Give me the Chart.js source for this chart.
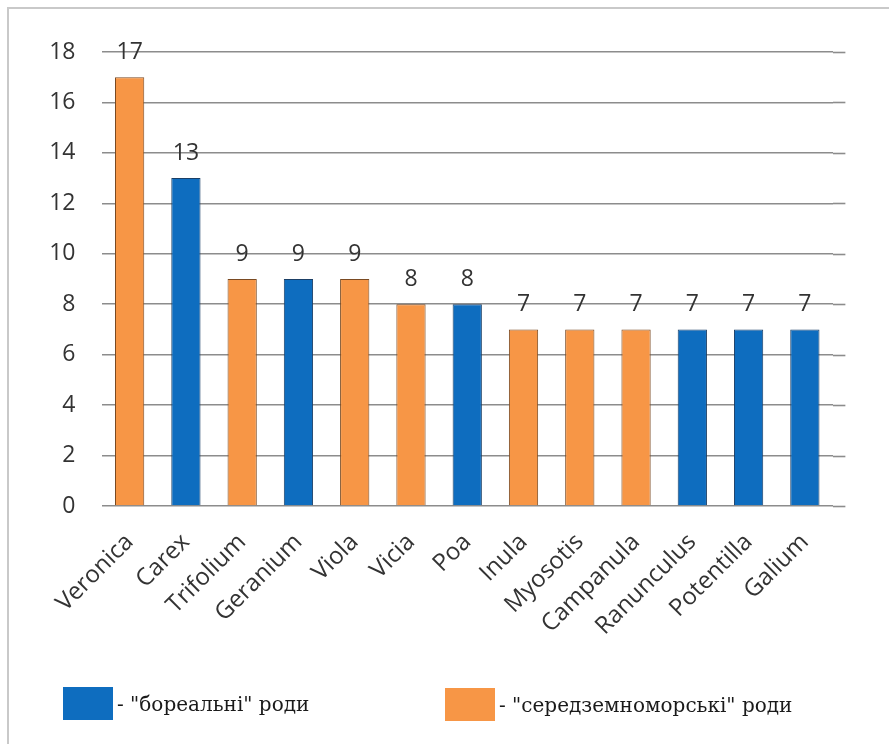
<!DOCTYPE html>
<html>
<head>
<meta charset="utf-8">
<script src="https://cdn.jsdelivr.net/npm/chart.js@4/dist/chart.umd.min.js"></script>
<style>
  html, body { margin: 0; padding: 0; background: #fff; }
  #wrap { position: relative; width: 889px; height: 744px; overflow: hidden; }
  #frame { position: absolute; left: 7px; top: 7px; width: 900px; height: 760px;
           border-left: 2px solid #c9c9c9; border-top: 2px solid #c9c9c9; box-sizing: border-box; }
  canvas { position: absolute; left: 0; top: 0; }
  .key { position: absolute; display: flex; align-items: center;
         font-family: "DejaVu Serif", "Liberation Serif", serif; font-size: 20px; color: #1a1a1a; }
  .swatch { width: 50px; height: 33px; margin-right: 4px; }
</style>
</head>
<body>
<div id="wrap">
  <div id="frame"></div>
  <canvas id="c" width="889" height="744"></canvas>
  <div class="key" style="left:63px; top:687px;"><div class="swatch" style="background:#0E6DBF"></div>- "бореальні" роди</div>
  <div class="key" style="left:445px; top:688px;"><div class="swatch" style="background:#F79646"></div>- "середземноморські" роди</div>
</div>
<script>
// Genera and their species counts
const genera = ['Veronica', 'Carex', 'Trifolium', 'Geranium', 'Viola', 'Vicia', 'Poa',
                'Inula', 'Myosotis', 'Campanula', 'Ranunculus', 'Potentilla', 'Galium'];
const speciesCount = [17, 13, 9, 9, 9, 8, 8, 7, 7, 7, 7, 7, 7];
// 'b' = boreal genus, 'm' = Mediterranean genus
const groupOf = ['m', 'b', 'm', 'b', 'm', 'm', 'b', 'm', 'm', 'm', 'b', 'b', 'b'];
const yTicks = [0, 2, 4, 6, 8, 10, 12, 14, 16, 18];

const FILL = { b: '#0E6DBF', m: '#F79646' };
const EDGE = { b: '#1B3F66', m: '#7A4A22' };

// Value labels above each bar, plus a short run-out of the gridlines past the last bar
const barLabels = {
  id: 'barLabels',
  beforeDatasetsDraw(chart) {
    const { ctx, chartArea, scales } = chart;
    const ext = (chartArea.right - chartArea.left) / genera.length * 0.22;
    ctx.save();
    ctx.strokeStyle = '#8c8c8c';
    ctx.lineWidth = 1.6;
    yTicks.forEach(v => {
      const y = Math.round(scales.y.getPixelForValue(v)) + 0.5;
      ctx.beginPath();
      ctx.moveTo(chartArea.right, y);
      ctx.lineTo(chartArea.right + ext, y);
      ctx.stroke();
    });
    ctx.restore();
  },
  afterDatasetsDraw(chart) {
    const { ctx } = chart;
    const meta = chart.getDatasetMeta(0);
    ctx.save();
    ctx.font = '23px "Open Sans", sans-serif';
    ctx.fillStyle = '#333';
    ctx.textAlign = 'center';
    ctx.textBaseline = 'middle';
    meta.data.forEach((bar, i) => {
      ctx.fillText(String(speciesCount[i]), bar.x, bar.y - 25);
    });
    ctx.restore();
  }
};

new Chart(document.getElementById('c'), {
  type: 'bar',
  data: {
    labels: genera,
    datasets: [{
      data: speciesCount,
      backgroundColor: groupOf.map(g => FILL[g]),
      borderColor: groupOf.map(g => EDGE[g]),
      borderWidth: 1,
      barPercentage: 0.52,
      categoryPercentage: 1.0
    }]
  },
  options: {
    responsive: false,
    animation: false,
    devicePixelRatio: 1,
    layout: { padding: { left: 0, right: 56, top: 52, bottom: 0 } },
    plugins: { legend: { display: false }, tooltip: { enabled: false } },
    scales: {
      x: {
        grid: { display: false, drawTicks: false },
        border: { display: false },
        ticks: {
          autoSkip: false,
          minRotation: 45, maxRotation: 45,
          padding: 22,
          color: '#333',
          font: { family: '"Open Sans", sans-serif', size: 24 }
        },
        afterFit(scale) { scale.height = 238; }
      },
      y: {
        min: 0, max: 18,
        afterBuildTicks(scale) { scale.ticks = yTicks.map(v => ({ value: v })); },
        grid: { color: '#8c8c8c', lineWidth: 1.6, drawTicks: false },
        border: { display: false },
        ticks: {
          padding: 26,
          color: '#333',
          font: { family: '"Open Sans", sans-serif', size: 23 }
        },
        afterFit(scale) { scale.width = 101.5; }
      }
    }
  },
  plugins: [barLabels]
});
</script>
</body>
</html>
